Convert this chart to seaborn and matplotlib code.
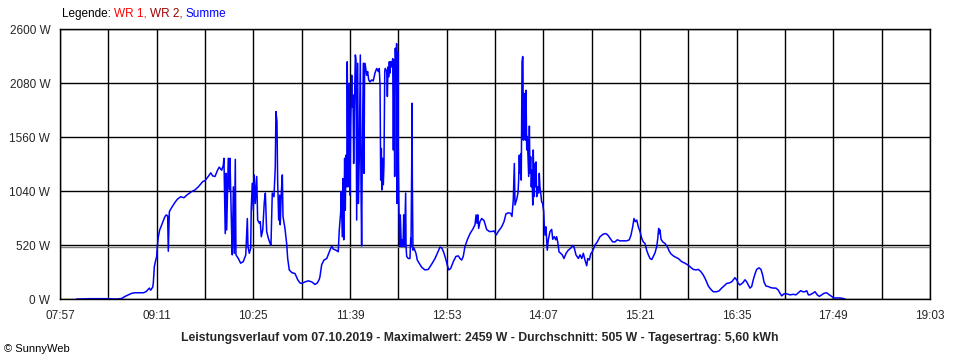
import matplotlib
matplotlib.use("Agg")
import matplotlib.pyplot as plt
import seaborn as sns
import numpy as np

sns.set_style("white")
plt.rcParams['font.family'] = ['Liberation Sans', 'DejaVu Sans']

# minutes since midnight and power in W
minutes = [
    489.8, 492.3, 500.0, 511.4, 518.3, 520.6, 524.2, 526.8, 529.3, 531.9, 534.4, 540.8, 542.8, 545.4, 546.4,
    548.0, 548.4, 549.2, 550.0, 551.0, 551.5, 552.3, 553.3, 554.6, 555.8, 557.4, 558.4, 559.4, 559.9, 560.7,
    562.2, 565.0, 566.8, 569.4, 571.9, 574.0, 577.8, 580.3, 582.9, 586.2, 588.0, 590.5, 592.4, 593.9, 595.7,
    597.4, 598.9, 600.8, 602.0, 602.5,
    603.5, 604.1, 604.6, 605.8, 606.6, 607.1, 608.4, 608.9, 609.7, 610.4, 611.2, 611.7, 613.5, 615.3, 617.3,
    619.2, 620.4, 620.9, 621.9, 623.0, 623.4, 624.2, 625.0, 625.7, 626.5, 627.6, 628.3, 629.6, 630.3, 631.1,
    632.2, 633.4, 634.2, 635.2, 636.5, 637.8, 638.5, 639.5, 640.8, 641.8, 642.3, 643.1, 643.6, 644.4, 645.2,
    645.6, 646.4, 647.2, 647.7, 649.2, 650.5, 651.3, 652.5, 654.4, 656.9, 659.0, 660.7, 662.0, 664.6, 667.1,
    669.7, 672.2, 674.0, 675.5, 676.0, 677.3, 679.1, 681.2, 683.2, 685.0, 686.2, 688.3, 690.0, 690.8, 691.9,
    692.3, 693.1, 693.6, 694.2, 694.9, 695.4, 695.9, 696.5, 696.9, 697.5, 698.0, 698.5, 699.0, 699.5, 700.3,
    700.8, 701.3, 701.8, 702.3, 703.1, 703.6, 704.1, 704.9, 705.4, 706.1, 706.9, 707.4, 707.9, 708.4, 709.2,
    709.7, 710.2, 710.7, 711.7, 712.5, 713.3, 714.3, 715.6, 716.8, 718.1, 719.4, 720.7, 721.4, 722.0, 722.5,
    723.0, 723.5, 724.0, 724.5, 725.0, 725.6, 726.0, 726.6, 727.1, 727.6, 728.1, 728.6, 729.1, 729.6, 730.2,
    730.9, 731.7, 732.2, 732.7, 733.2, 733.7, 734.2, 734.7, 735.0, 735.5, 736.0, 736.5, 737.0, 737.5, 738.3,
    738.8, 739.6, 740.1, 740.7, 741.6, 741.9, 742.4, 743.6, 744.9, 745.5, 745.7, 746.2, 746.5, 746.7, 747.2,
    748.0, 749.5, 750.5, 752.0, 753.9, 756.4, 758.9, 761.5, 764.1, 765.8, 767.9, 769.4, 771.0, 772.5, 773.5,
    774.6, 776.1, 778.1, 780.1, 781.9, 783.2, 784.5, 785.7, 787.0, 788.8, 790.9, 792.9, 794.7, 795.5, 796.2,
    796.8, 797.5, 798.5, 799.8, 801.6, 803.6, 805.6, 807.5, 809.5, 810.8, 812.5, 815.1, 816.9, 818.4, 820.2,
    822.0, 823.0, 824.0, 824.8, 825.3, 826.6, 827.6, 828.1, 828.6, 829.1, 829.7, 830.1, 830.7, 831.2, 831.4,
    831.7, 832.2, 832.7, 833.2, 833.7, 834.3, 834.7, 835.3, 835.8, 836.3, 836.8, 837.3, 837.8, 838.3, 838.9,
    839.3, 839.9, 840.4, 840.9, 841.4, 841.9, 842.7, 843.4, 843.9, 844.4, 845.0, 845.7, 846.5, 847.3, 847.7,
    848.3, 849.0, 849.6, 850.0, 850.8, 852.1, 853.4, 854.2, 855.4, 856.5, 857.2, 858.0, 859.0, 860.3, 861.5,
    862.8, 864.4, 866.1, 868.0, 869.5, 870.5, 872.0, 873.8, 875.1, 876.4, 877.6, 878.9, 880.2, 881.0, 882.2,
    883.3, 884.5, 886.6, 888.3, 890.4, 892.9, 895.0, 896.7, 898.6, 900.1, 901.9, 903.6, 905.7, 910.8, 912.8,
    914.1, 915.4, 916.4, 917.4, 918.5, 919.7, 921.0, 922.3, 923.5, 924.8, 926.1, 927.4, 928.7, 930.0, 931.2,
    932.5, 933.8, 934.6, 935.3, 935.8, 936.3, 937.1, 938.4, 940.1, 941.9, 943.2, 944.7, 946.5, 948.6, 950.3,
    952.9, 955.4, 958.0, 959.8, 961.8, 963.9, 965.6, 967.5, 969.5, 971.3, 973.3, 975.1, 977.1, 979.7, 981.7,
    983.5, 985.3, 987.4, 989.4, 991.2, 992.4, 993.7, 995.0, 996.2, 997.5, 999.6, 1001.4, 1002.7, 1003.9, 1005.2,
    1006.5, 1007.7, 1009.0, 1010.3, 1012.1, 1013.6, 1014.9, 1015.9, 1017.4, 1019.2, 1021.0, 1023.0, 1025.1, 1026.9, 1028.2,
    1029.5, 1031.2, 1033.3, 1035.8, 1038.3, 1040.4, 1042.2, 1044.0, 1045.6, 1047.3, 1048.6, 1049.9, 1051.1, 1053.2, 1055.0,
    1056.7, 1058.3, 1060.1, 1061.9, 1063.9, 1065.9, 1067.8, 1069.0, 1074.1, 1076.6, 1077.9,
]
watts = [
    0, 0, 3, 3, 0, 0, 5, 25, 40, 55, 60, 60, 70, 105, 85,
    115, 150, 310, 360, 410, 505, 600, 665, 705, 745, 795, 810, 800, 460, 840,
    875, 930, 960, 985, 975, 1000, 1035, 1050, 1080, 1130, 1140, 1180, 1215, 1185, 1180,
    1235, 1270, 1240, 1290, 1355,
    630, 1210, 665, 1355, 1050, 1355, 635, 425, 1080, 440, 1345, 425, 390, 345, 360,
    425, 775, 505, 440, 490, 875, 1115, 855, 1195, 920, 1180, 760, 730, 745, 600,
    665, 935, 1020, 650, 585, 535, 520, 1020, 985, 1275, 1805, 1710, 1145, 760, 1000,
    715, 1020, 1195, 795, 680, 535, 390, 280, 255, 245, 185, 155, 150, 165, 175,
    165, 140, 155, 190, 215, 330, 375, 390, 455, 510, 480, 470, 455, 665, 840,
    1035, 600, 1160, 570, 1355, 855, 1385, 1080, 2285, 1080, 2075, 1625, 1000, 1660, 2155,
    1850, 1965, 1305, 1790, 2350, 2300, 760, 2270, 920, 1355, 2350, 1130, 510, 1370, 2270,
    1210, 2270, 2255, 2155, 2190, 2110, 2090, 2110, 2100, 2175, 2220, 2190, 2220, 2060, 1145,
    1450, 1050, 1355, 1100, 1290, 2190, 2220, 2205, 2190, 1950, 2235, 2140, 2285, 2175, 2285,
    2235, 2315, 1435, 2300, 1180, 2415, 2075, 2459, 920, 2380, 1305, 840, 505, 810, 505,
    570, 505, 810, 505, 1020, 505, 410, 390, 390, 585, 505, 1225, 1885, 1180, 470,
    490, 440, 375, 345, 305, 280, 285, 335, 390, 440, 500, 490, 440, 375, 325,
    280, 295, 360, 410, 415, 390, 375, 410, 505, 570, 630, 670, 715, 810, 730,
    810, 680, 745, 775, 755, 670, 650, 650, 655, 615, 650, 695, 745, 820, 830,
    825, 795, 955, 1305, 905, 960, 1020, 1145, 1385, 1210, 1400, 1145, 2285, 2335, 2300,
    1530, 1980, 1625, 1530, 2010, 1435, 1565, 1370, 1180, 1665, 1210, 1370, 1080, 1240, 905,
    1435, 985, 1305, 1080, 1320, 985, 1080, 1020, 1210, 1080, 1020, 935, 920, 840, 715,
    615, 695, 570, 470, 570, 650, 670, 575, 600, 570, 600, 550, 455, 440, 425,
    390, 440, 470, 490, 515, 500, 425, 390, 425, 390, 440, 375, 320, 390, 375,
    435, 455, 520, 550, 600, 625, 630, 610, 575, 550, 550, 570, 560, 560, 570,
    615, 695, 775, 745, 760, 695, 650, 585, 550, 535, 470, 425, 390, 380, 410,
    445, 505, 585, 680, 630, 665, 575, 550, 535, 505, 465, 435, 415, 400, 390,
    360, 345, 325, 305, 285, 280, 285, 265, 230, 185, 125, 95, 70, 70, 80,
    105, 125, 150, 155, 165, 185, 205, 185, 150, 135, 155, 185, 165, 135, 105,
    120, 185, 240, 285, 300, 285, 230, 165, 125, 120, 110, 105, 105, 85, 55,
    30, 50, 50, 40, 45, 40, 60, 80, 70, 70, 80, 40, 40, 55, 70,
    40, 25, 40, 55, 60, 40, 25, 10, 10, 5, 0,
]

average_w = 505
y_ticks = [0, 520, 1040, 1560, 2080, 2600]
x_start, x_end, x_step = 477, 1143, 37   # 07:57 .. 19:03
title = ("Leistungsverlauf vom 07.10.2019 - Maximalwert: 2459 W - "
         "Durchschnitt: 505 W - Tagesertrag: 5,60 kWh")


def hhmm(m):
    m = int(round(m))
    return "%02d:%02d" % (m // 60, m % 60)


fig = plt.figure(figsize=(9.6, 3.6), dpi=100)
ax = fig.add_axes([60 / 960, 1 - 299 / 360, 870 / 960, 270 / 360])

# the curve sits under the frame, so zero values vanish behind the x axis
sns.lineplot(x=minutes, y=watts, sort=False, estimator=None, ax=ax,
             color="#0000FF", lw=1.1, zorder=2)
ax.axhline(average_w, color="#808080", lw=1.0, zorder=1.5)

ax.set_xlim(x_start, x_end)
ax.set_ylim(0, 2600)

all_x = np.arange(x_start, x_end + 1, x_step)
ax.set_xticks(all_x)
ax.set_xticklabels([hhmm(m) if i % 2 == 0 else "" for i, m in enumerate(all_x)])
ax.set_yticks(y_ticks)
ax.set_yticklabels(["%d W" % v for v in y_ticks])
ax.grid(True, color="black", lw=1.0)
ax.set_axisbelow(True)
for s in ax.spines.values():
    s.set_color("black")
    s.set_linewidth(1.0)
    s.set_zorder(2.5)
ax.tick_params(axis="both", direction="out", length=5, width=1.0, color="black",
               labelsize=8.5, pad=2)
ax.tick_params(axis="x", pad=3)
ax.set_xlabel("")
ax.set_ylabel("")

# legend line at the top
t0 = fig.text(62 / 960, 1 - 17 / 360, "Legende: ", fontsize=8.5, color="black", va="baseline")
t1 = ax.annotate("WR 1, ", xy=(1, 0), xycoords=t0, fontsize=8.5, color="#FF0000", va="bottom")
t2 = ax.annotate("WR 2, ", xy=(1, 0), xycoords=t1, fontsize=8.5, color="#A00000", va="bottom")
ax.annotate("Summe", xy=(1, 0), xycoords=t2, fontsize=8.5, color="#0000FF", va="bottom")

fig.text(0.5, 1 - 341 / 360, title, ha="center", fontsize=8.8, fontweight="bold")
fig.text(4 / 960, 1 - 352 / 360, "\u00a9 SunnyWeb", fontsize=8, color="black")

fig.savefig("out.png", dpi=100)
